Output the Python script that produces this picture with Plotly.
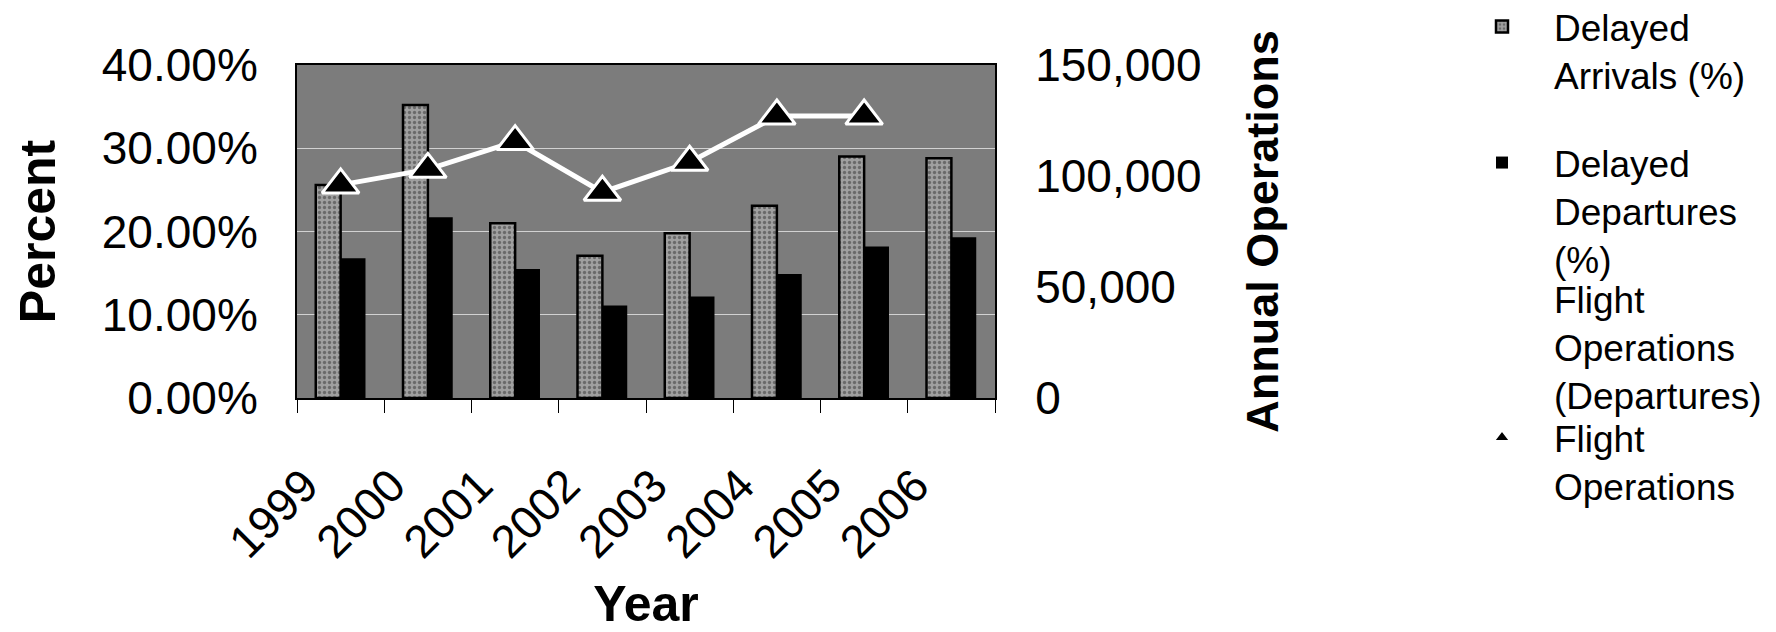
import plotly.graph_objects as go

# ---------------- data ----------------
years = ["1999", "2000", "2001", "2002", "2003", "2004", "2005", "2006"]
delayed_arrivals = [0.256, 0.352, 0.210, 0.171, 0.198, 0.231, 0.290, 0.288]
delayed_departures = [0.168, 0.217, 0.155, 0.111, 0.122, 0.149, 0.182, 0.193]
ops_years = ["1999", "2000", "2001", "2002", "2003", "2004", "2005"]
flight_operations = [96000, 103000, 115500, 92700, 106200, 127000, 127000]
pct_ticks = [0, 0.1, 0.2, 0.3, 0.4]
ops_ticks = [0, 50000, 100000, 150000]

FONT = "Liberation Sans, Arial, Helvetica, sans-serif"
TICK_SIZE = 46
TITLE_SIZE = 50
LEG_SIZE = 37

# plot area in pixels
PL, PR, PT, PB = 297, 995, 65, 398
W, H = 1776, 632


def px_x(v):
    return (v - PL) / (PR - PL)


def px_y(v):
    return (PB - v) / (PB - PT)


fig = go.Figure()

fig.add_trace(go.Bar(
    x=years, y=delayed_arrivals, name="Delayed<br>Arrivals (%)",
    marker=dict(color="#8e8e8e",
                line=dict(color="black", width=2.5),
                pattern=dict(shape=".", fgcolor="#333333", bgcolor="#a0a0a0",
                             size=5, solidity=0.35)),
    legend="legend",
))
fig.add_trace(go.Bar(
    x=years, y=delayed_departures, name="Delayed<br>Departures<br>(%)",
    marker=dict(color="black", line=dict(color="black", width=0)),
    legend="legend2",
))
fig.add_trace(go.Scatter(
    x=ops_years, y=flight_operations, yaxis="y2", mode="lines",
    name="Flight<br>Operations<br>(Departures)",
    line=dict(color="white", width=5),
    legend="legend3",
))
fig.add_trace(go.Scatter(
    x=ops_years, y=flight_operations, yaxis="y2", mode="markers",
    name="Flight<br>Operations",
    marker=dict(symbol="triangle-up", size=32, color="black",
                line=dict(color="white", width=3)),
    legend="legend4",
))

leg_common = dict(xref="paper", yref="paper", xanchor="left", yanchor="top",
                  bgcolor="rgba(0,0,0,0)", borderwidth=0, itemwidth=94, valign="top",
                  font=dict(family=FONT, size=LEG_SIZE, color="black"),
                  itemclick=False, itemdoubleclick=False)
LEG_X = px_x(1450)

fig.update_layout(
    width=W, height=H,
    margin=dict(l=PL, r=W - PR, t=PT, b=H - PB, autoexpand=False),
    paper_bgcolor="white", plot_bgcolor="#7c7c7c",
    barmode="group", bargap=0.43, bargroupgap=0,
    font=dict(family=FONT, size=TICK_SIZE, color="black"),
    showlegend=True,
    legend=dict(leg_common, x=LEG_X, y=px_y(-4)),
    legend2=dict(leg_common, x=LEG_X, y=px_y(132)),
    legend3=dict(leg_common, x=LEG_X, y=px_y(268)),
    legend4=dict(leg_common, x=LEG_X, y=px_y(407)),
    xaxis=dict(type="category", categoryorder="array", categoryarray=years,
               range=[-0.5, len(years) - 0.5],
               tickangle=-45, ticks="outside", tickson="boundaries", ticklen=13,
               tickcolor="black", tickwidth=1,
               ticklabelshift=-36, ticklabelstandoff=40,
               showline=True, linecolor="black", linewidth=2, mirror=True,
               showgrid=False,
               tickfont=dict(family=FONT, size=TICK_SIZE),
               title=dict(text="Year", standoff=45,
                          font=dict(family=FONT, size=TITLE_SIZE, weight="bold"))),
    yaxis=dict(range=[0, 0.4], tickvals=pct_ticks, tickformat=".2%",
               showgrid=True, gridcolor="#d2d2d2", gridwidth=1, zeroline=False,
               showline=True, linecolor="black", linewidth=2, mirror=True,
               ticks="outside", ticklen=28, tickcolor="rgba(0,0,0,0)",
               tickfont=dict(family=FONT, size=TICK_SIZE),
               title=dict(text="Percent", standoff=30,
                          font=dict(family=FONT, size=TITLE_SIZE, weight="bold"))),
    yaxis2=dict(overlaying="y", side="right", range=[0, 150000], tickvals=ops_ticks,
                tickformat=",", showgrid=False, zeroline=False,
                ticks="outside", ticklen=30, tickcolor="rgba(0,0,0,0)",
                tickfont=dict(family=FONT, size=TICK_SIZE),
                title=dict(text="Annual Operations", standoff=46,
                           font=dict(family=FONT, size=45, weight="bold"))),
)

fig.write_html("out.html", config={"displayModeBar": False},
               post_script="document.body.style.margin='0';")
